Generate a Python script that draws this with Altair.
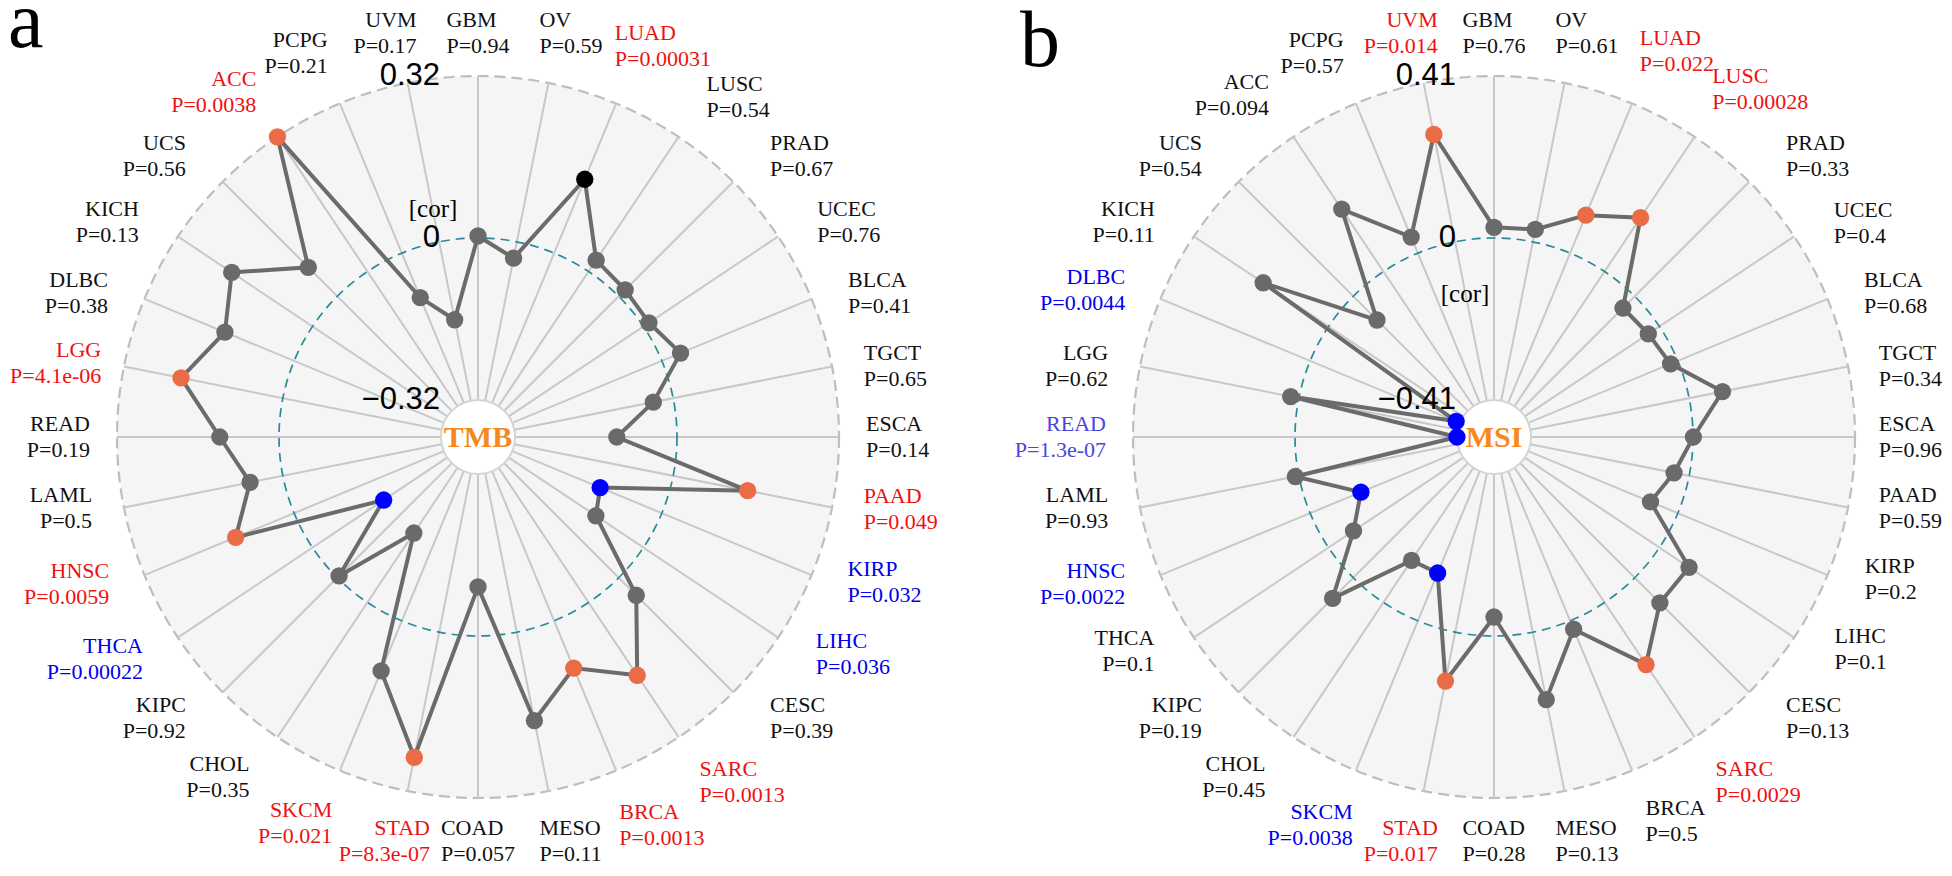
import altair as alt
import numpy as np
import pandas as pd

# ---------------- data ----------------
cancers = ["GBM", "OV", "LUAD", "LUSC", "PRAD", "UCEC", "BLCA", "TGCT", "ESCA", "PAAD",
           "KIRP", "LIHC", "CESC", "SARC", "BRCA", "MESO", "COAD", "STAD", "SKCM", "CHOL",
           "KIPC", "THCA", "HNSC", "LAML", "READ", "LGG", "DLBC", "KICH", "UCS", "ACC",
           "PCPG", "UVM"]

tmb_cor = [0.004, -0.033, 0.158, 0.027, 0.018, 0.013, 0.040, -0.040, -0.119, 0.150,
           -0.132, -0.113, 0.049, 0.173, 0.101, 0.178, -0.097, 0.252, 0.107, -0.165,
           -0.005, -0.169, 0.125, 0.066, 0.117, 0.205, 0.148, 0.192, 0.081, 0.320,
           -0.095, -0.157]
tmb_p = ["0.94", "0.59", "0.00031", "0.54", "0.67", "0.76", "0.41", "0.65", "0.14", "0.049",
         "0.032", "0.036", "0.39", "0.0013", "0.0013", "0.11", "0.057", "8.3e-07", "0.021", "0.35",
         "0.92", "0.00022", "0.0059", "0.5", "0.19", "4.1e-06", "0.38", "0.13", "0.56", "0.0038",
         "0.21", "0.17"]
tmb_label_sig = ["ns", "ns", "up", "ns", "ns", "ns", "ns", "ns", "ns", "up",
                 "down", "down", "ns", "up", "up", "ns", "ns", "up", "up", "ns",
                 "ns", "down", "up", "ns", "ns", "up", "ns", "ns", "ns", "up",
                 "ns", "ns"]
tmb_point_sig = ["ns", "ns", "mark", "ns", "ns", "ns", "ns", "ns", "ns", "up",
                 "down", "ns", "ns", "up", "up", "ns", "ns", "up", "ns", "ns",
                 "ns", "down", "up", "ns", "ns", "up", "ns", "ns", "ns", "up",
                 "ns", "ns"]

msi_cor = [0.027, 0.032, 0.104, 0.164, -0.042, -0.034, -0.020, 0.086, 0.001, -0.039,
           -0.075, 0.090, 0.090, 0.189, 0.023, 0.174, -0.048, 0.126, -0.131, -0.128,
           0.074, -0.076, -0.139, 0.009, -0.410, 0.021, -0.400, 0.199, -0.085, 0.190,
           0.044, 0.277]
msi_p = ["0.76", "0.61", "0.022", "0.00028", "0.33", "0.4", "0.68", "0.34", "0.96", "0.59",
         "0.2", "0.1", "0.13", "0.0029", "0.5", "0.13", "0.28", "0.017", "0.0038", "0.45",
         "0.19", "0.1", "0.0022", "0.93", "1.3e-07", "0.62", "0.0044", "0.11", "0.54", "0.094",
         "0.57", "0.014"]
msi_label_sig = ["ns", "ns", "up", "up", "ns", "ns", "ns", "ns", "ns", "ns",
                 "ns", "ns", "ns", "up", "ns", "ns", "ns", "up", "down", "ns",
                 "ns", "ns", "down", "ns", "down2", "ns", "down", "ns", "ns", "ns",
                 "ns", "up"]
msi_point_sig = ["ns", "ns", "up", "up", "ns", "ns", "ns", "ns", "ns", "ns",
                 "ns", "ns", "ns", "up", "ns", "ns", "ns", "up", "down", "ns",
                 "ns", "ns", "down", "ns", "down", "ns", "down", "ns", "ns", "ns",
                 "ns", "up"]

# ---------------- style / layout ----------------
W, H = 1936, 860
N = len(cancers)
R_OUT, R_ZERO = 361, 199
LABEL_COL = {"up": "#EE1111", "down": "#0000EE", "down2": "#4646E0", "ns": "#111111"}
POINT_COL = {"up": "#EA6B45", "down": "#0000FF", "ns": "#6A6A6A", "mark": "#000000"}
SERIF = "Liberation Serif"
SANS = "Liberation Sans"
LFS = 22  # label font size
TW = {'A': 722, 'B': 667, 'C': 667, 'D': 722, 'E': 611, 'G': 722, 'H': 722, 'I': 333,
      'K': 722, 'L': 611, 'M': 889, 'N': 722, 'O': 722, 'P': 556, 'R': 667, 'S': 556,
      'T': 611, 'U': 722, 'V': 722, '=': 564, '.': 250, 'e': 444, '-': 333}


def text_w(s, fs=LFS):
    return sum(TW.get(c, 500) for c in s) / 1000.0 * fs


xs = alt.Scale(domain=[0, W], nice=False, zero=False)
ys = alt.Scale(domain=[0, H], nice=False, zero=False, reverse=True)


def XY(xf="x", yf="y"):
    return dict(x=alt.X(f"{xf}:Q", scale=xs, axis=None),
                y=alt.Y(f"{yf}:Q", scale=ys, axis=None))


def panel(cx, cy, vmax, cors, pvals, lsig, psig, center_txt, cor_off):
    def rad(v):
        return R_ZERO + np.asarray(v, dtype=float) / vmax * (R_OUT - R_ZERO)

    th = np.arange(N) * 2 * np.pi / N
    r = rad(cors)
    layers = []
    ctr = pd.DataFrame({"x": [cx], "y": [cy], "t": [center_txt]})

    # background disc with dashed outline
    layers.append(alt.Chart(ctr).mark_point(
        shape="circle", filled=True, size=(2 * R_OUT) ** 2, fill="#F5F5F5",
        stroke="#BEBEBE", strokeWidth=2.2, strokeDash=[11, 6], opacity=1
    ).encode(**XY()))

    # spokes
    r_in = float(rad(-vmax))
    spokes = pd.DataFrame({
        "x": cx + r_in * np.sin(th), "y": cy - r_in * np.cos(th),
        "x2": cx + R_OUT * np.sin(th), "y2": cy - R_OUT * np.cos(th)})
    layers.append(alt.Chart(spokes).mark_rule(color="#C8C8C8", strokeWidth=2).encode(
        **XY(), x2="x2:Q", y2="y2:Q"))

    # zero ring
    layers.append(alt.Chart(ctr).mark_point(
        shape="circle", filled=False, size=(2 * R_ZERO) ** 2, stroke="#2B8A99",
        strokeWidth=1.7, strokeDash=[9, 6], opacity=1
    ).encode(**XY()))

    # inner white disc
    layers.append(alt.Chart(ctr).mark_point(
        shape="circle", filled=True, size=(2 * r_in) ** 2, fill="#FFFFFF",
        stroke="#D4D4D4", strokeWidth=2, opacity=1
    ).encode(**XY()))

    # polygon line
    idx = list(range(N)) + [0]
    line_df = pd.DataFrame({
        "o": range(N + 1),
        "x": [cx + r[i] * np.sin(th[i]) for i in idx],
        "y": [cy - r[i] * np.cos(th[i]) for i in idx]})
    layers.append(alt.Chart(line_df).mark_line(color="#6B6B6B", strokeWidth=4).encode(
        **XY(), order="o:Q"))

    # points
    pts = pd.DataFrame({
        "cancer": cancers, "cor": cors,
        "x": cx + r * np.sin(th), "y": cy - r * np.cos(th),
        "c": [POINT_COL[s] for s in psig]})
    layers.append(alt.Chart(pts).mark_circle(size=300, opacity=1).encode(
        **XY(), color=alt.Color("c:N", scale=None)))

    # center text
    layers.append(alt.Chart(ctr).mark_text(
        font=SERIF, fontSize=30, fontWeight="bold", color="#F5891F",
        align="center", baseline="middle", dy=1
    ).encode(**XY(), text="t:N"))

    # radial tick labels
    tv = [vmax, 0.0, -vmax]
    ticks = pd.DataFrame({
        "x": [cx - 38] * 3, "y": [cy - float(rad(v)) for v in tv],
        "t": [f"{vmax:g}", "0", "\u2212" + f"{vmax:g}"]})
    layers.append(alt.Chart(ticks).mark_text(
        font=SANS, fontSize=31, align="right", baseline="middle", color="#000000"
    ).encode(**XY(), text="t:N"))

    cor_df = pd.DataFrame({"x": [cx + cor_off[0]], "y": [cy + cor_off[1]], "t": ["[cor]"]})
    layers.append(alt.Chart(cor_df).mark_text(
        font=SERIF, fontSize=25, align="center", baseline="middle", color="#000000"
    ).encode(**XY(), text="t:N"))

    # category labels: block just outside the ring, centred on a (slightly bent) radial line
    rows = []
    for i in range(N):
        t = th[i]
        tp = t + np.radians(4) * np.sin(2 * t)
        ptxt = "P=" + pvals[i]
        w = max(text_w(cancers[i]), text_w(ptxt))
        ext = w / 2 * abs(np.sin(tp)) + 26 * abs(np.cos(tp))
        rc = 388 + ext
        X = cx + rc * np.sin(tp)
        Y = min(max(cy - rc * np.cos(tp), 25), 833)
        left = i <= N // 2
        if left:
            xt = min(X - w / 2, W - 2 - w)
        else:
            xt = max(X + w / 2, w + 2)
        col = LABEL_COL[lsig[i]]
        al = "left" if left else "right"
        rows.append({"x": xt, "y": Y - 13, "t": cancers[i], "c": col, "a": al})
        rows.append({"x": xt, "y": Y + 13, "t": ptxt, "c": col, "a": al})
    lab = pd.DataFrame(rows)
    for al in ["left", "right"]:
        layers.append(alt.Chart(lab[lab["a"] == al]).mark_text(
            font=SERIF, fontSize=LFS, align=al, baseline="middle"
        ).encode(**XY(), text="t:N", color=alt.Color("c:N", scale=None)))
    return layers


CY = 429
layers_a = panel(470, CY, 0.32, tmb_cor, tmb_p, tmb_label_sig, tmb_point_sig, "TMB", (-45, -228))
layers_b = panel(1486, CY, 0.41, msi_cor, msi_p, msi_label_sig, msi_point_sig, "MSI", (-29, -143))

letters = pd.DataFrame({"x": [0, 1012], "y": [39, 58], "t": ["a", "b"]})
letter_layer = alt.Chart(letters).mark_text(
    font=SERIF, fontSize=80, align="left", baseline="alphabetic", color="#000000"
).encode(**XY(), text="t:N")

chart = alt.layer(*layers_a, *layers_b, letter_layer).properties(
    width=W, height=H, padding=0,
    autosize=alt.AutoSizeParams(type="none"),
).configure_view(strokeWidth=0)

chart.save("out.html", embed_options={"renderer": "svg", "actions": False})
